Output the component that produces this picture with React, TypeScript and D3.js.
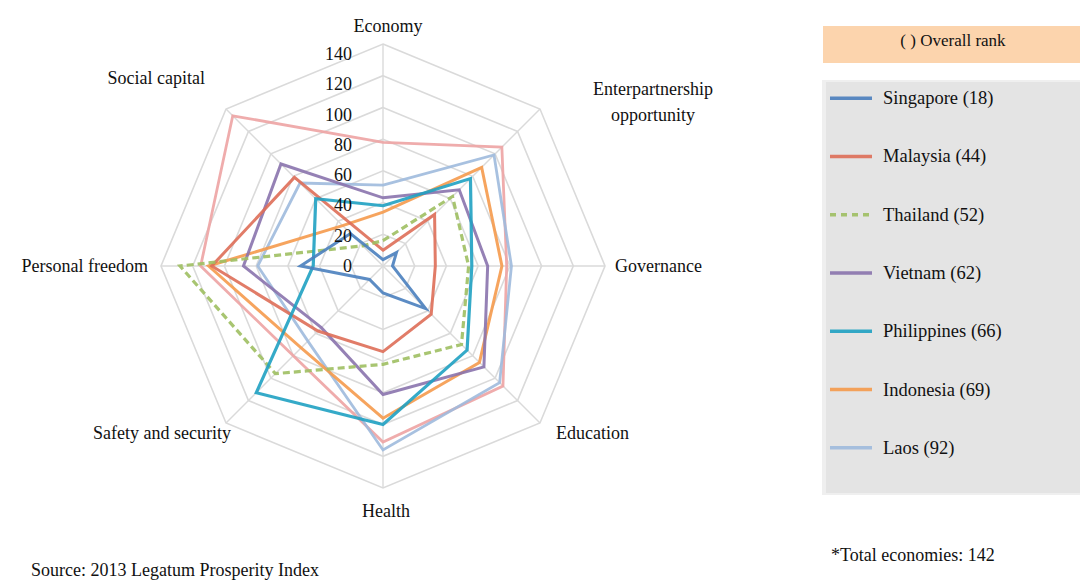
import React, { useEffect, useRef } from 'react';
import * as d3 from 'd3';

// axis order, clockwise from the top
const AXES = [
    'Economy',
    'Enterpartnership opportunity',
    'Governance',
    'Education',
    'Health',
    'Safety and security',
    'Personal freedom',
    'Social capital',
];
const TICKS = [0, 20, 40, 60, 80, 100, 120, 140];

// sub-index ranks
const SINGAPORE = [4, 12, 6, 38, 17, 12, 52, 29];
const MALAYSIA = [10, 46, 33, 43, 54, 58, 108, 79];
const THAILAND = [16, 62, 54, 70, 62, 96, 128, 18];
const VIETNAM = [43, 68, 66, 90, 81, 55, 88, 91];
const PHILIPPINES = [38, 78, 56, 75, 100, 113, 44, 60];
const INDONESIA = [34, 88, 75, 86, 96, 73, 110, 36];
const LAOS = [51, 99, 81, 104, 116, 67, 79, 74];
const UNLISTED = [78, 106, 78, 107, 111, 80, 115, 134]; // pink polygon, no legend entry

const COUNTRIES = ['Singapore', 'Malaysia', 'Thailand', 'Vietnam', 'Philippines', 'Indonesia', 'Laos'];
const OVERALL_RANK = [18, 44, 52, 62, 66, 69, 92];

const FONT = 'Liberation Serif, Times New Roman, DejaVu Serif, serif';

export default function App() {
    const svgRef = useRef<SVGSVGElement>(null);

    useEffect(() => {
        document.body.style.margin = '0';
        if (!svgRef.current) return;

        const width = 1080;
        const height = 581;
        const cx = 383;
        const cy = 266;
        const radius = 222;

        const svg = d3.select(svgRef.current);
        svg.selectAll('*').remove();
        svg.attr('width', width).attr('height', height).attr('viewBox', `0 0 ${width} ${height}`)
            .attr('font-family', FONT);

        svg.append('rect').attr('width', width).attr('height', height).attr('fill', '#ffffff');

        const n = AXES.length;
        const angleSlice = (Math.PI * 2) / n;
        const rScale = d3.scaleLinear().domain([0, 140]).range([0, radius]);
        const px = (v: number, i: number) => cx + rScale(v) * Math.sin(angleSlice * i);
        const py = (v: number, i: number) => cy - rScale(v) * Math.cos(angleSlice * i);

        const g = svg.append('g');

        // grid rings
        TICKS.slice(1).forEach(t => {
            g.append('polygon')
                .attr('points', AXES.map((_, i) => `${px(t, i)},${py(t, i)}`).join(' '))
                .attr('fill', 'none')
                .attr('stroke', '#dadada')
                .attr('stroke-width', 1.6);
        });

        // spokes
        AXES.forEach((_, i) => {
            g.append('line')
                .attr('x1', cx).attr('y1', cy)
                .attr('x2', px(140, i)).attr('y2', py(140, i))
                .attr('stroke', '#dadada')
                .attr('stroke-width', 1.4);
        });

        // series
        const series = [
            { values: UNLISTED, color: '#eda3a3', dash: null, width: 2.8 },
            { values: LAOS, color: '#9fbadd', dash: null, width: 2.8 },
            { values: INDONESIA, color: '#f59a4c', dash: null, width: 3 },
            { values: VIETNAM, color: '#8a73ad', dash: null, width: 3 },
            { values: MALAYSIA, color: '#de6e58', dash: null, width: 3 },
            { values: THAILAND, color: '#9fbf62', dash: '7,4', width: 3.2 },
            { values: PHILIPPINES, color: '#1fa1c2', dash: null, width: 3.2 },
            { values: SINGAPORE, color: '#4a7fbe', dash: null, width: 3 },
        ];

        const radarLine = d3.lineRadial<number>()
            .angle((d, i) => i * angleSlice)
            .radius(d => rScale(d))
            .curve(d3.curveLinearClosed);

        const lines = g.append('g').attr('transform', `translate(${cx},${cy})`);
        series.forEach(s => {
            lines.append('path')
                .attr('d', radarLine(s.values))
                .attr('fill', 'none')
                .attr('stroke', s.color)
                .attr('stroke-width', s.width)
                .attr('stroke-linejoin', 'miter')
                .attr('stroke-dasharray', s.dash)
                .attr('opacity', 0.9);
        });

        // tick labels, sitting just inside the rings like the original
        g.selectAll('.tick-label')
            .data(TICKS)
            .enter()
            .append('text')
            .attr('class', 'tick-label')
            .attr('x', 352)
            .attr('y', d => cy - rScale(d) * 0.955 + 6)
            .attr('text-anchor', 'end')
            .attr('font-size', 18)
            .attr('fill', '#111')
            .text(d => d);

        // axis labels: [dx, dy, anchor] relative to the outer vertex
        const labelPos: [number, number, string][] = [
            [5, -12, 'middle'],
            [113, -14, 'middle'],
            [10, 6, 'start'],
            [16, 16, 'start'],
            [3, 29, 'middle'],
            [5, 16, 'end'],
            [-13, 6, 'end'],
            [-21, -25, 'end'],
        ];
        AXES.forEach((label, i) => {
            const [dx, dy, anchor] = labelPos[i];
            const t = g.append('text')
                .attr('x', px(140, i) + dx)
                .attr('y', py(140, i) + dy)
                .attr('text-anchor', anchor)
                .attr('font-size', 18)
                .attr('fill', '#111');
            if (label === 'Enterpartnership opportunity') {
                t.append('tspan').attr('x', px(140, i) + dx).attr('dy', 0).text('Enterpartnership');
                t.append('tspan').attr('x', px(140, i) + dx).attr('dy', 26).text('opportunity');
            } else {
                t.text(label);
            }
        });

        // legend
        const lg = svg.append('g');
        lg.append('rect')
            .attr('x', 823).attr('y', 26).attr('width', 257).attr('height', 37)
            .attr('fill', '#fcd4ad');
        lg.append('text')
            .attr('x', 953).attr('y', 46)
            .attr('text-anchor', 'middle')
            .attr('font-size', 17)
            .attr('fill', '#111')
            .text('( ) Overall rank');

        lg.append('rect')
            .attr('x', 822).attr('y', 80).attr('width', 258).attr('height', 415)
            .attr('fill', '#efefef');
        lg.append('rect')
            .attr('x', 826).attr('y', 82).attr('width', 254).attr('height', 411)
            .attr('fill', '#e4e4e4');

        const legendColors = ['#4a7fbe', '#de6e58', '#9fbf62', '#8a73ad', '#1fa1c2', '#f59a4c', '#9fbadd'];
        const yLegend = d3.scaleBand<string>().domain(COUNTRIES).range([69, 477]);
        COUNTRIES.forEach((name, i) => {
            const y = (yLegend(name) ?? 0) + yLegend.bandwidth() / 2;
            lg.append('line')
                .attr('x1', 830).attr('x2', 872)
                .attr('y1', y).attr('y2', y)
                .attr('stroke', legendColors[i])
                .attr('stroke-width', 3.5)
                .attr('stroke-dasharray', name === 'Thailand' ? '6,5' : null)
                .attr('opacity', 0.9);
            lg.append('text')
                .attr('x', 883).attr('y', y + 6)
                .attr('font-size', 18.5)
                .attr('fill', '#111')
                .text(`${name} (${OVERALL_RANK[i]})`);
        });

        svg.append('text')
            .attr('x', 831).attr('y', 561)
            .attr('font-size', 18)
            .attr('fill', '#111')
            .text('*Total economies: 142');

        svg.append('text')
            .attr('x', 31).attr('y', 576)
            .attr('font-size', 18)
            .attr('fill', '#111')
            .text('Source: 2013 Legatum Prosperity Index');
    }, []);

    return <svg ref={svgRef} width={1080} height={581} style={{ display: 'block' }} />;
}
